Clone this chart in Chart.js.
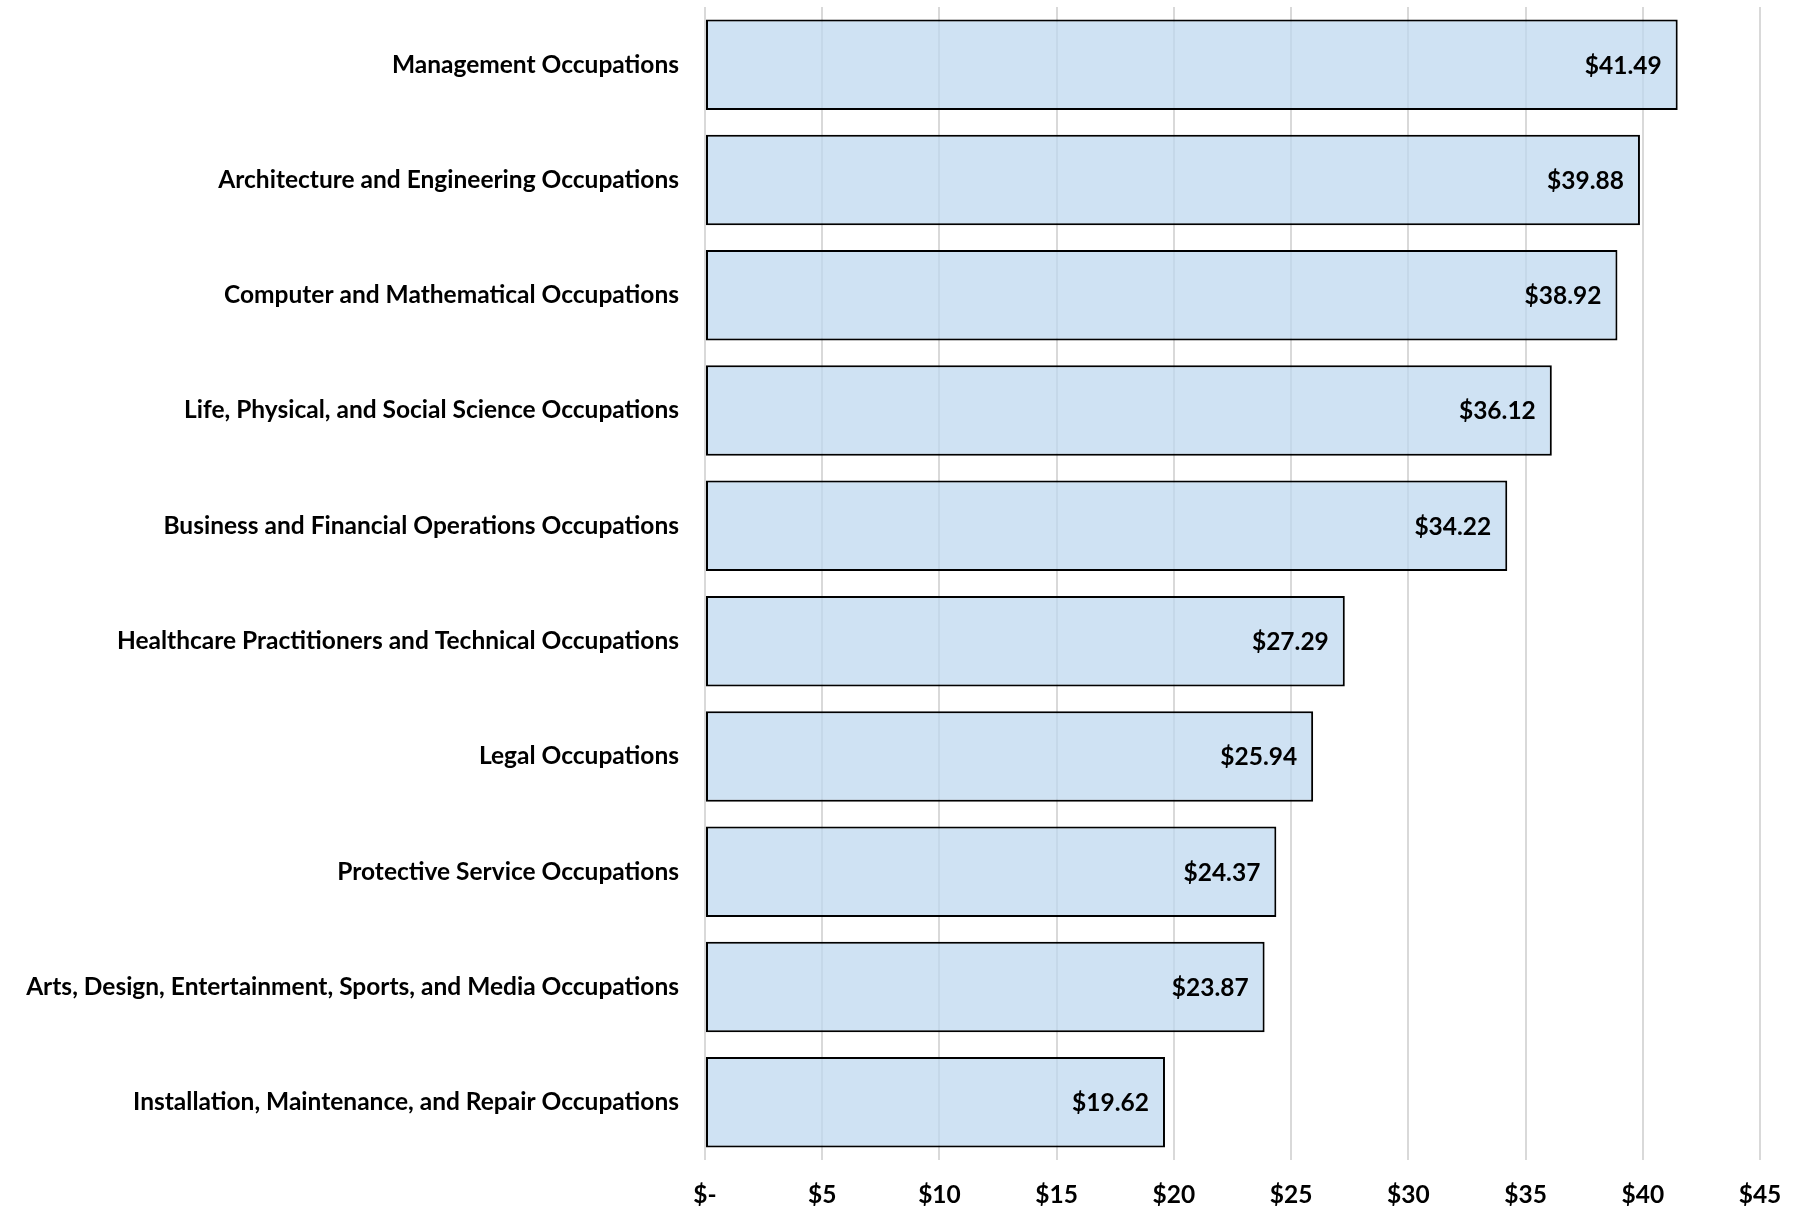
<!DOCTYPE html>
<html>
<head>
<meta charset="utf-8">
<script src="https://cdn.jsdelivr.net/npm/chart.js@4.4.1/dist/chart.umd.min.js"></script>
<style>
  html, body { margin: 0; padding: 0; background: #ffffff; }
  #wrap { width: 1818px; height: 1225px; }
</style>
</head>
<body>
<div id="wrap"><canvas id="wageChart" width="1818" height="1225"></canvas></div>
<script>
const occupations = [
    'Management Occupations',
    'Architecture and Engineering Occupations',
    'Computer and Mathematical Occupations',
    'Life, Physical, and Social Science Occupations',
    'Business and Financial Operations Occupations',
    'Healthcare Practitioners and Technical Occupations',
    'Legal Occupations',
    'Protective Service Occupations',
    'Arts, Design, Entertainment, Sports, and Media Occupations',
    'Installation, Maintenance, and Repair Occupations'
];
const hourlyWages = [41.49, 39.88, 38.92, 36.12, 34.22, 27.29, 25.94, 24.37, 23.87, 19.62];
const axisMin = 0;
const axisMax = 45;
const axisStep = 5;

const FONT = 'Lato, "Open Sans", sans-serif';
const FONT_SIZE = 24.5;

// draws "$xx.xx" inside the end of each bar
const barValueLabels = {
    id: 'barValueLabels',
    afterDatasetsDraw(chart) {
        const ctx = chart.ctx;
        const meta = chart.getDatasetMeta(0);
        ctx.save();
        ctx.font = 'bold ' + FONT_SIZE + 'px ' + FONT;
        ctx.fillStyle = '#000000';
        ctx.textAlign = 'right';
        ctx.textBaseline = 'middle';
        meta.data.forEach((bar, i) => {
            ctx.fillText('$' + hourlyWages[i].toFixed(2), bar.x - 16, bar.y + 1);
        });
        ctx.restore();
    }
};

function initializeChart() {
    const canvas = document.getElementById('wageChart');
    if (!canvas) {
        console.error('wageChart canvas not found');
        return;
    }
    const ctx = canvas.getContext('2d');

    new Chart(ctx, {
        type: 'bar',
        data: {
            labels: occupations,
            datasets: [{
                data: hourlyWages,
                backgroundColor: 'rgba(189, 215, 238, 0.72)',
                borderColor: '#000000',
                borderWidth: 2,
                borderSkipped: false,
                categoryPercentage: 1.0,
                barPercentage: 0.785
            }]
        },
        options: {
            indexAxis: 'y',
            responsive: false,
            devicePixelRatio: 1,
            animation: false,
            layout: {
                padding: { top: 7, right: 58, bottom: 0, left: 0 }
            },
            scales: {
                x: {
                    min: axisMin,
                    max: axisMax,
                    afterFit(scale) { scale.height = 65; },
                    ticks: {
                        stepSize: axisStep,
                        padding: 20,
                        color: '#000000',
                        font: { family: FONT, size: FONT_SIZE, weight: 'bold' },
                        callback: (v) => v === 0 ? '$-' : '$' + v
                    },
                    grid: {
                        color: '#d9d9d9',
                        lineWidth: 2,
                        drawTicks: false
                    },
                    border: { display: false }
                },
                y: {
                    afterFit(scale) {
                        scale.width = 705;
                        // keep label half-heights from pushing the plot down
                        scale.paddingTop = 0;
                        scale.paddingBottom = 0;
                    },
                    ticks: {
                        padding: 26,
                        color: '#000000',
                        font: { family: FONT, size: FONT_SIZE, weight: 'bold' }
                    },
                    grid: { display: false, drawTicks: false },
                    border: { display: false }
                }
            },
            plugins: {
                legend: { display: false },
                title: { display: false },
                tooltip: { enabled: false }
            }
        },
        plugins: [barValueLabels]
    });
}

initializeChart();
</script>
</body>
</html>
